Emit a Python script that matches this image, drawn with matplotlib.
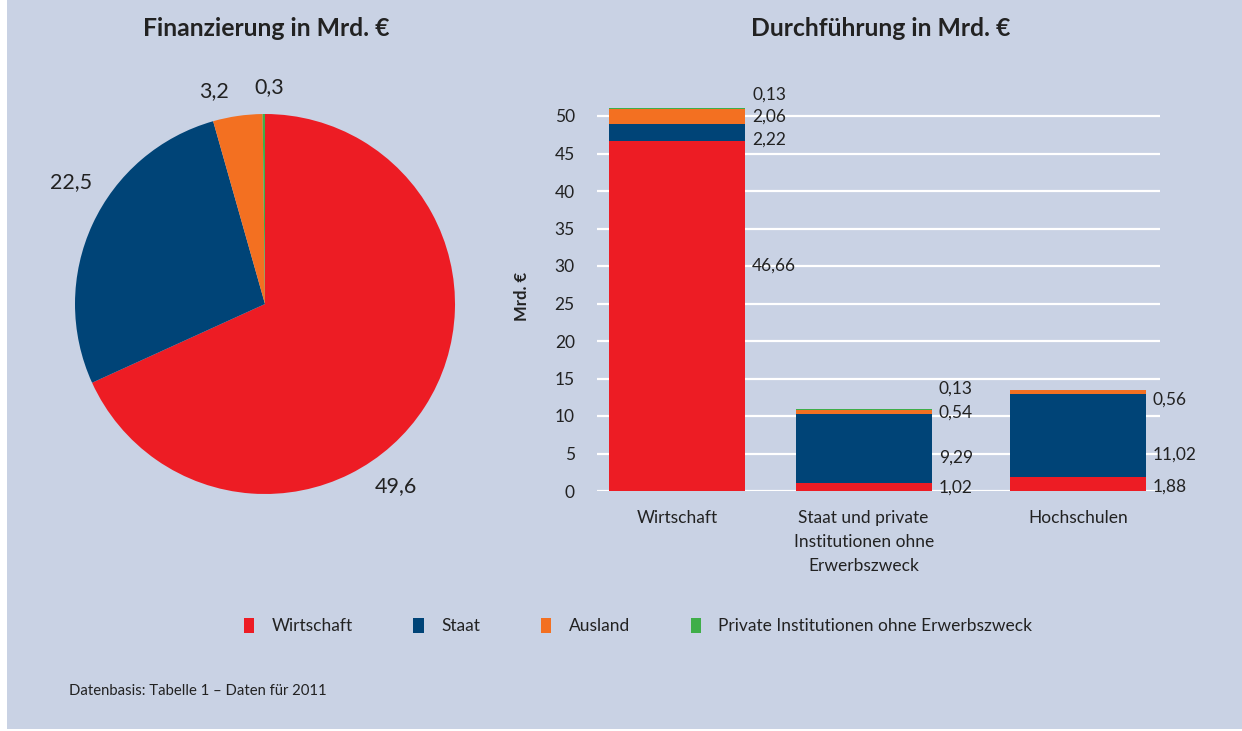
import matplotlib.pyplot as plt
from matplotlib.patches import Rectangle

plt.rcParams['font.family'] = ['Lato', 'DejaVu Sans']

# Finanzierung (pie)
pie_labels = ['Wirtschaft', 'Staat', 'Ausland', 'Private Institutionen ohne Erwerbszweck']
pie_texts = ['49,6', '22,5', '3,2', '0,3']
# wedge sizes as drawn in the picture (percent of the circle)
pie_shares = [68.2, 27.4, 4.2, 0.2]

# Durchführung (stacked bars)
bar_cats = ['Wirtschaft', 'Staat und private\nInstitutionen ohne\nErwerbszweck', 'Hochschulen']
wirtschaft = [46.66, 1.02, 1.88]
staat = [2.22, 9.29, 11.02]
ausland = [2.06, 0.54, 0.56]
private = [0.13, 0.13, 0.0]
series = [wirtschaft, staat, ausland, private]
yticks = [0, 5, 10, 15, 20, 25, 30, 35, 40, 45, 50]

colors = ['#ed1c24', '#004477', '#f37021', '#3fae49']
bg = '#c9d2e4'
txt = '#222222'

fig = plt.figure(figsize=(12.42, 7.31), dpi=100, facecolor='white')
fig.patches.append(Rectangle((7 / 1242, 2 / 731), 1, 1, transform=fig.transFigure,
                             facecolor=bg, edgecolor='none', zorder=-10))

# ---- pie ----
ax1 = fig.add_axes([18 / 1242, 180 / 731, 494 / 1242, 494 / 731])
ax1.set_facecolor('none')
ax1.pie(pie_shares, colors=colors, startangle=90, counterclock=False,
        wedgeprops=dict(linewidth=0))
ax1.set_xlim(-1.3, 1.3)
ax1.set_ylim(-1.3, 1.3)
ax1.set_aspect('equal')
ax1.axis('off')
# label positions (layout)
pie_label_pos = [(0.69, -0.96), (-1.02, 0.64), (-0.27, 1.12), (0.02, 1.14)]
for t, (lx, ly) in zip(pie_texts, pie_label_pos):
    ax1.text(lx, ly, t, ha='center', va='center', fontsize=15.5, color=txt)
fig.text(266 / 1242, 1 - 28 / 731, 'Finanzierung in Mrd. €', ha='center', va='center',
         fontsize=17.8, fontweight='bold', color=txt)

# ---- stacked bars ----
ax2 = fig.add_axes([597 / 1242, 240 / 731, 563 / 1242, 390 / 731])
ax2.set_facecolor('none')
xpos = [0, 0.931, 2]
width = 0.68
bottoms = [0.0, 0.0, 0.0]
for vals, c in zip(series, colors):
    ax2.bar(xpos, vals, width, bottom=bottoms, color=c, linewidth=0, zorder=3)
    bottoms = [b + v for b, v in zip(bottoms, vals)]

# value labels: heights where each label sits (layout)
label_y = [[30.1, 46.9, 49.9, 52.8],
           [0.5, 4.4, 10.4, 13.7],
           [0.6, 4.8, 12.2, None]]
for i, x in enumerate(xpos):
    for j, vals in enumerate(series):
        y = label_y[i][j]
        if y is None:
            continue
        ax2.annotate(f'{vals[i]:.2f}'.replace('.', ','), (x + width / 2, y),
                     xytext=(5, 0), textcoords='offset points', ha='left', va='center',
                     fontsize=12.5, color=txt, annotation_clip=False)

ax2.set_xlim(-0.40, 2.41)
ax2.set_ylim(0, 52)
ax2.set_yticks(yticks)
ax2.set_yticklabels([str(v) for v in yticks])
ax2.set_xticks(xpos)
ax2.set_xticklabels(bar_cats, linespacing=1.6)
ax2.tick_params(axis='y', length=0, pad=16, labelsize=12.5, labelcolor=txt)
ax2.tick_params(axis='x', length=0, pad=14, labelsize=12.5, labelcolor=txt)
ax2.grid(axis='y', color='white', linewidth=1.6, zorder=0)
ax2.set_axisbelow(True)
for s in ax2.spines.values():
    s.set_visible(False)
ax2.set_ylabel('Mrd. €', fontsize=12, fontweight='bold', color=txt, labelpad=18)
fig.text(881 / 1242, 1 - 28 / 731, 'Durchführung in Mrd. €', ha='center', va='center',
         fontsize=17.8, fontweight='bold', color=txt)

# ---- legend ----
handles = [Rectangle((0, 0), 1, 1, facecolor=c, edgecolor='none') for c in colors]
fig.legend(handles, pie_labels, loc='center', bbox_to_anchor=(638 / 1242, 1 - 626 / 731),
           ncol=4, frameon=False, fontsize=12.5, handlelength=0.6, handleheight=1.0,
           handletextpad=1.0, columnspacing=3.5, labelcolor=txt)

fig.text(69 / 1242, 1 - 691 / 731, 'Datenbasis: Tabelle 1 – Daten für 2011', ha='left',
         va='center', fontsize=10.7, color=txt)

fig.savefig('out.png', dpi=100, facecolor=fig.get_facecolor())
